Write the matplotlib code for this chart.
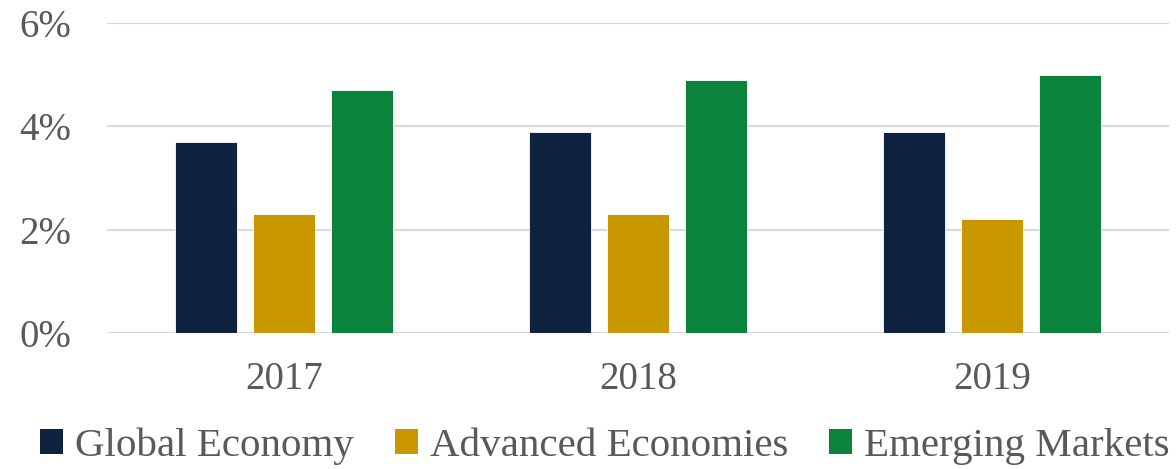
import matplotlib
matplotlib.use("Agg")
import matplotlib.pyplot as plt
import numpy as np
from matplotlib.patches import Patch

years = ["2017", "2018", "2019"]
series_names = ["Global Economy", "Advanced Economies", "Emerging Markets"]
global_economy = [3.7, 3.9, 3.9]
advanced_economies = [2.3, 2.3, 2.2]
emerging_markets = [4.7, 4.9, 5.0]
y_ticks = [0, 2, 4, 6]
y_tick_labels = ["0%", "2%", "4%", "6%"]

colors = ["#0F2341", "#C99700", "#0A843D"]
text_color = "#595959"
font = "Liberation Serif"

W, H = 1176, 469
fig = plt.figure(figsize=(W / 100, H / 100), dpi=100)
left, right, top, bottom = 107, 1169, 23, 333
ax = fig.add_axes([left / W, 1 - bottom / H, (right - left) / W, (bottom - top) / H])

x = np.arange(len(years))
width = 0.175
step = 0.22
all_series = [global_economy, advanced_economies, emerging_markets]
for i, (vals, c) in enumerate(zip(all_series, colors)):
    ax.bar(x + (i - 1) * step, vals, width, color=c, edgecolor="white",
           linewidth=0.6, zorder=3)

ax.set_xlim(-0.5, len(years) - 0.5)
ax.set_ylim(0, 6)
ax.set_yticks(y_ticks)
ax.set_yticklabels(y_tick_labels)
ax.set_xticks(x)
ax.set_xticklabels(years)
for s in ax.spines.values():
    s.set_visible(False)
ax.grid(axis="y", color="#D9D9D9", linewidth=1.5, zorder=0)
ax.tick_params(axis="both", length=0, colors=text_color)
ax.tick_params(axis="y", pad=26, labelsize=28)
ax.tick_params(axis="x", pad=20, labelsize=28)
for lab in ax.get_xticklabels() + ax.get_yticklabels():
    lab.set_fontfamily(font)

handles = [Patch(facecolor=c, edgecolor="none") for c in colors]
leg = fig.legend(handles, series_names, loc="center", bbox_to_anchor=(0.5145, 1 - 446 / H),
                 ncol=3, frameon=False, handlelength=0.55, handleheight=0.55,
                 handletextpad=0.3, columnspacing=1.0,
                 prop={"family": font, "size": 29.5})
for t in leg.get_texts():
    t.set_color(text_color)

fig.savefig("out.png", dpi=100)
